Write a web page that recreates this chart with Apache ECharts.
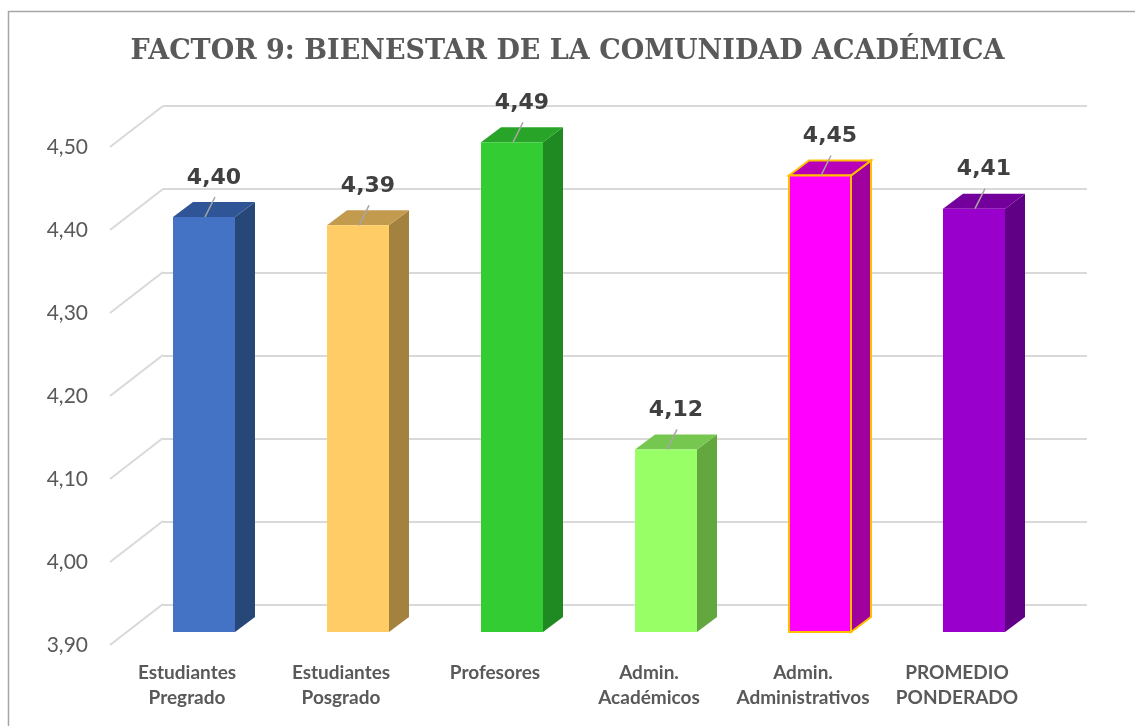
<!DOCTYPE html>
<html>
<head>
<meta charset="utf-8">
<script src="https://cdn.jsdelivr.net/npm/echarts@6/dist/echarts.min.js"></script>
<style>
  html, body { margin: 0; padding: 0; background: #fff; }
  #chart { width: 1135px; height: 726px; }
</style>
</head>
<body>
<div id="chart"></div>
<script>
// datos
var categorias = ['Estudiantes\nPregrado', 'Estudiantes\nPosgrado', 'Profesores', 'Admin.\nAcadémicos', 'Admin.\nAdministrativos', 'PROMEDIO\nPONDERADO'];
var valores = [4.40, 4.39, 4.49, 4.12, 4.45, 4.41];
var ticks = [3.9, 4.0, 4.1, 4.2, 4.3, 4.4, 4.5];

// colores de las caras
var colorFrente = ['#4472C4', '#FFCC66', '#33CC33', '#99FF66', '#FF00FF', '#9900CC'];
var colorArriba = ['#2F5597', '#C39B4E', '#28A428', '#76C74F', '#B800B8', '#73009A'];
var colorLado = ['#284779', '#A3813F', '#1F8A22', '#63A73F', '#A0009C', '#600085'];
var colorBorde = [null, null, null, null, '#FFC000', null];

var yMin = 3.9, yMax = 4.5;
var prof = [53, -41];   // desplazamiento frente -> fondo del piso
var fmt = function (v) { return v.toFixed(2).replace('.', ','); };

var chart = echarts.init(document.getElementById('chart'));

var option = {
    backgroundColor: '#fff',
    title: {
        text: 'FACTOR 9: BIENESTAR DE LA COMUNIDAD ACADÉMICA',
        left: 'center',
        top: 33,
        textStyle: {
            fontFamily: 'DejaVu Serif',
            fontWeight: 'bold',
            fontSize: 27,
            color: '#595959'
        }
    },
    graphic: [{
        type: 'rect',
        shape: { x: 8.5, y: 11.5, width: 1200, height: 800 },
        style: { fill: null, stroke: '#a6a6a6', lineWidth: 1.5 },
        silent: true
    }],
    grid: [
        // pared del fondo
        { left: 163, top: 106, width: 924, height: 499 },
        // plano del frente
        { left: 110, top: 147, width: 924, height: 498 }
    ],
    xAxis: [
        { gridIndex: 0, type: 'category', data: categorias, show: false },
        {
            gridIndex: 1, type: 'category', data: categorias,
            axisLine: { show: false }, axisTick: { show: false },
            axisLabel: {
                margin: 15,
                interval: 0,
                fontFamily: 'Lato',
                fontWeight: 'bold',
                fontSize: 19,
                lineHeight: 25,
                color: '#595959'
            }
        }
    ],
    yAxis: [
        {
            gridIndex: 0, type: 'value', min: yMin, max: yMax, interval: 0.1,
            axisLine: { show: false }, axisTick: { show: false }, axisLabel: { show: false },
            splitLine: { lineStyle: { color: '#d9d9d9', width: 2 } }
        },
        {
            gridIndex: 1, type: 'value', min: yMin, max: yMax, interval: 0.1,
            axisLine: { show: false }, axisTick: { show: false },
            splitLine: { show: false },
            axisLabel: {
                margin: 22,
                fontFamily: 'Lato',
                fontSize: 21,
                color: '#595959',
                formatter: function (v) { return fmt(v); }
            }
        }
    ],
    series: [
        {
            // lineas inclinadas del lateral
            type: 'custom',
            xAxisIndex: 1, yAxisIndex: 1,
            silent: true,
            z: 1,
            data: ticks.map(function (t) { return [0, t]; }),
            renderItem: function (params, api) {
                var p = api.coord([0, api.value(1)]);
                var x = params.coordSys.x;
                return {
                    type: 'line',
                    shape: { x1: x, y1: p[1], x2: x + prof[0], y2: p[1] + prof[1] },
                    style: { stroke: '#d9d9d9', lineWidth: 2 }
                };
            }
        },
        {
            // barras 3D
            type: 'custom',
            xAxisIndex: 1, yAxisIndex: 1,
            z: 3,
            data: valores.map(function (v, i) { return [i, v]; }),
            renderItem: function (params, api) {
                var i = api.value(0), v = api.value(1);
                var top = api.coord([i, v]);
                var base = api.coord([i, yMin]);
                var w = 62, dx = 20, dy = -15;
                var cx = top[0] + 17;
                var x0 = cx - w / 2, x1 = cx + w / 2;
                var yT = top[1] - 13, yB = base[1] - 13;
                var bc = colorBorde[i];
                var stroke = bc ? { stroke: bc, lineWidth: 2, lineJoin: 'miter' } : {};
                return {
                    type: 'group',
                    children: [
                        {
                            type: 'polygon',
                            shape: { points: [[x1, yT], [x1 + dx, yT + dy], [x1 + dx, yB + dy], [x1, yB]] },
                            style: Object.assign({ fill: colorLado[i] }, stroke)
                        },
                        {
                            type: 'polygon',
                            shape: { points: [[x0, yT], [x0 + dx, yT + dy], [x1 + dx, yT + dy], [x1, yT]] },
                            style: Object.assign({ fill: colorArriba[i] }, stroke)
                        },
                        {
                            type: 'rect',
                            shape: { x: x0, y: yT, width: w, height: yB - yT },
                            style: Object.assign({ fill: colorFrente[i] }, stroke)
                        },
                        {
                            type: 'line',
                            shape: { x1: cx + 1, y1: yT, x2: cx + 11, y2: yT - 20 },
                            style: { stroke: '#a6a6a6', lineWidth: 1.5 }
                        },
                        {
                            type: 'text',
                            x: cx + 10,
                            y: yT - 28,
                            style: {
                                text: fmt(v),
                                fontFamily: 'DejaVu Sans',
                                fontWeight: 'bold',
                                fontSize: 22,
                                fill: '#404040',
                                align: 'center',
                                verticalAlign: 'bottom'
                            }
                        }
                    ]
                };
            }
        }
    ]
};

chart.setOption(option);
</script>
</body>
</html>
